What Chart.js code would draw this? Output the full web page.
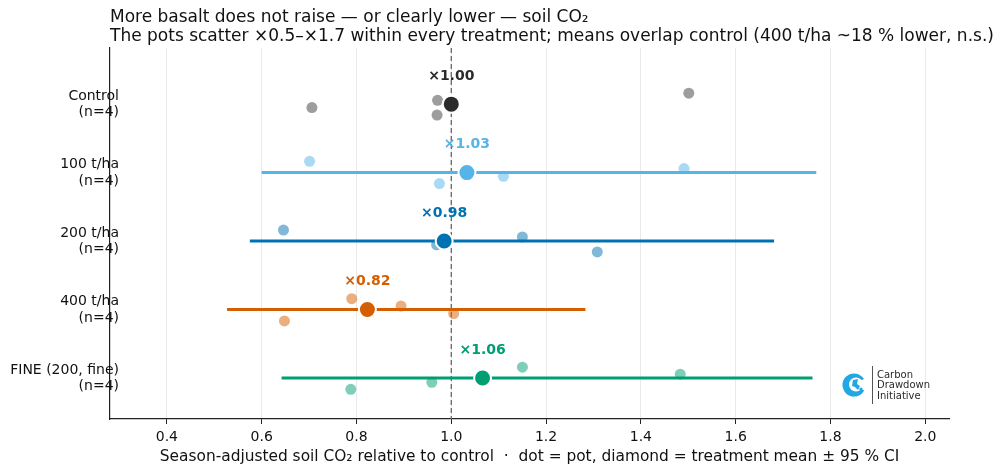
<!DOCTYPE html>
<html>
<head>
<meta charset="utf-8">
<script src="https://cdn.jsdelivr.net/npm/chart.js@4.4.1/dist/chart.umd.min.js"></script>
<style>
  html, body { margin: 0; padding: 0; background: #ffffff; }
  #wrap { width: 1000px; height: 476px; position: relative; }
</style>
</head>
<body>
<div id="wrap"><canvas id="c"></canvas></div>
<script>
// ---------- data ----------
const titleLines = [
  'More basalt does not raise \u2014 or clearly lower \u2014 soil CO\u2082',
  'The pots scatter \u00d70.5\u2013\u00d71.7 within every treatment; means overlap control (400 t/ha ~18 % lower, n.s.)'
];
const xTitle = 'Season-adjusted soil CO\u2082 relative to control  \u00b7  dot = pot, diamond = treatment mean \u00b1 95 % CI';
const categories = ['Control', '100 t/ha', '200 t/ha', '400 t/ha', 'FINE (200, fine)'];
const nLabels = ['(n=4)', '(n=4)', '(n=4)', '(n=4)', '(n=4)'];
const potValues = [
  [0.706, 0.971, 0.970, 1.501],
  [0.701, 0.975, 1.110, 1.491],
  [0.646, 0.969, 1.150, 1.308],
  [0.790, 0.648, 0.894, 1.005],
  [1.150, 0.788, 0.959, 1.483]
];
const potJitter = [
  [0.05, -0.055, 0.16, -0.16],
  [-0.165, 0.16, 0.054, -0.058],
  [-0.16, 0.055, -0.06, 0.16],
  [-0.157, 0.167, -0.05, 0.06],
  [-0.157, 0.167, 0.064, -0.054]
];
const meanValues = [1.000, 1.033, 0.985, 0.823, 1.066];
const ciLow  = [null, 0.600, 0.575, 0.527, 0.642];
const ciHigh = [null, 1.770, 1.681, 1.283, 1.762];
const meanLabels = ['\u00d71.00', '\u00d71.03', '\u00d70.98', '\u00d70.82', '\u00d71.06'];
const xTicks = [0.4, 0.6, 0.8, 1.0, 1.2, 1.4, 1.6, 1.8, 2.0];
const referenceX = 1.0;
const logoLines = ['Carbon', 'Drawdown', 'Initiative'];

// ---------- styles ----------
const FONT = "'DejaVu Sans', 'Liberation Sans', sans-serif";
const seriesColors = ['#2b2b2b', '#56B4E9', '#0072B2', '#D55E00', '#009E73'];
const potColors = ['rgba(60,60,60,0.5)', 'rgba(86,180,233,0.5)', 'rgba(0,114,178,0.5)', 'rgba(213,94,0,0.5)', 'rgba(0,158,115,0.5)'];

// ---------- datasets ----------
const datasets = [];
categories.forEach((cat, i) => {
  datasets.push({
    type: 'scatter',
    label: cat + ' mean',
    data: [{ x: meanValues[i], y: i }],
    pointRadius: 8.5,
    pointBackgroundColor: seriesColors[i],
    pointBorderColor: '#ffffff',
    pointBorderWidth: 2,
    order: 0
  });
  datasets.push({
    type: 'scatter',
    label: cat + ' pots',
    data: potValues[i].map((v, k) => ({ x: v, y: i + potJitter[i][k] })),
    pointRadius: 5.5,
    pointBackgroundColor: potColors[i],
    pointBorderWidth: 0,
    order: 1
  });
  if (ciLow[i] !== null) {
    datasets.push({
      type: 'line',
      label: cat + ' CI',
      data: [{ x: ciLow[i], y: i }, { x: ciHigh[i], y: i }],
      borderColor: seriesColors[i],
      borderWidth: 3,
      pointRadius: 0,
      showLine: true,
      order: 2
    });
  }
});
datasets.push({
  type: 'line',
  label: 'reference',
  data: [{ x: referenceX, y: -0.82 }, { x: referenceX, y: 4.6 }],
  borderColor: '#666666',
  borderWidth: 1.3,
  borderDash: [5, 3],
  pointRadius: 0,
  showLine: true,
  order: 3
});

// ---------- plugins ----------
const decorPlugin = {
  id: 'decor',
  afterDraw(chart) {
    const ctx = chart.ctx;
    const xs = chart.scales.x, ys = chart.scales.y;
    const area = chart.chartArea;
    ctx.save();
    // title
    ctx.fillStyle = '#111111';
    ctx.font = '17px ' + FONT;
    ctx.textAlign = 'left';
    ctx.textBaseline = 'middle';
    ctx.fillText(titleLines[0], area.left, 18);
    ctx.fillText(titleLines[1], area.left, 37);
    // category labels
    ctx.font = '14px ' + FONT;
    ctx.textAlign = 'right';
    ctx.fillStyle = '#111111';
    categories.forEach((c, i) => {
      const y = ys.getPixelForValue(i);
      ctx.fillText(c, area.left + 9, y - 8);
      ctx.fillText(nLabels[i], area.left + 9, y + 8.5);
    });
    // mean labels
    ctx.font = 'bold 14px ' + FONT;
    ctx.textAlign = 'center';
    meanLabels.forEach((t, i) => {
      ctx.fillStyle = seriesColors[i];
      ctx.fillText(t, xs.getPixelForValue(meanValues[i]), ys.getPixelForValue(i) - 28);
    });
    // logo
    const cx = 854, cy = 385, r = 11.5;
    ctx.fillStyle = '#22A7E6';
    ctx.beginPath(); ctx.arc(cx, cy, r, 0, Math.PI * 2); ctx.fill();
    ctx.fillStyle = '#ffffff';
    ctx.beginPath(); ctx.arc(cx + 2, cy - 0.5, 7, 0, Math.PI * 2); ctx.fill();
    ctx.beginPath();
    ctx.moveTo(cx + 4, cy - 3); ctx.lineTo(cx + 12, cy - 7); ctx.lineTo(cx + 12, cy + 6); ctx.lineTo(cx + 4, cy + 3);
    ctx.closePath(); ctx.fill();
    ctx.fillStyle = '#22A7E6';
    ctx.beginPath();
    ctx.moveTo(cx - 1, cy - 5); ctx.lineTo(cx + 4, cy - 6); ctx.lineTo(cx + 3, cy - 1); ctx.lineTo(cx + 6, cy + 1);
    ctx.lineTo(cx + 4, cy + 5); ctx.lineTo(cx + 1, cy + 2); ctx.lineTo(cx - 2, cy + 1); ctx.closePath(); ctx.fill();
    ctx.beginPath(); ctx.arc(cx + 7, cy + 4, 1.6, 0, Math.PI * 2); ctx.fill();
    ctx.strokeStyle = '#555555';
    ctx.lineWidth = 1;
    ctx.beginPath(); ctx.moveTo(872.5, 366); ctx.lineTo(872.5, 404); ctx.stroke();
    ctx.fillStyle = '#2a2a2a';
    ctx.font = '10px ' + FONT;
    ctx.textAlign = 'left';
    logoLines.forEach((t, k) => ctx.fillText(t, 877, 375 + k * 10.5));
    ctx.restore();
  }
};

new Chart(document.getElementById('c'), {
  data: { datasets },
  options: {
    responsive: true,
    maintainAspectRatio: false,
    animation: false,
    events: [],
    layout: { padding: { left: 110, right: 51, top: 48, bottom: 0 } },
    plugins: { legend: { display: false }, tooltip: { enabled: false }, title: { display: false } },
    scales: {
      x: {
        type: 'linear',
        min: 0.28,
        max: 2.05,
        afterBuildTicks: (s) => { s.ticks = xTicks.map(v => ({ value: v })); },
        afterFit: (s) => { s.height = 57; },
        ticks: {
          color: '#111111',
          font: { family: FONT, size: 14 },
          padding: 5,
          callback: (v) => v.toFixed(1)
        },
        grid: { color: '#e9e9e9', lineWidth: 1, tickColor: '#222222', tickLength: 5, drawTicks: true },
        border: { display: true, color: '#222222', width: 1.2 },
        title: { display: true, text: xTitle, color: '#111111', font: { family: FONT, size: 15.4 }, padding: { top: 2, bottom: 10 } }
      },
      y: {
        type: 'linear',
        reverse: true,
        min: -0.82,
        max: 4.6,
        ticks: { display: false },
        grid: { display: false, drawTicks: false },
        border: { display: true, color: '#222222', width: 1.2 },
        afterFit: (s) => { s.width = 0; }
      }
    }
  },
  plugins: [decorPlugin]
});
</script>
</body>
</html>
